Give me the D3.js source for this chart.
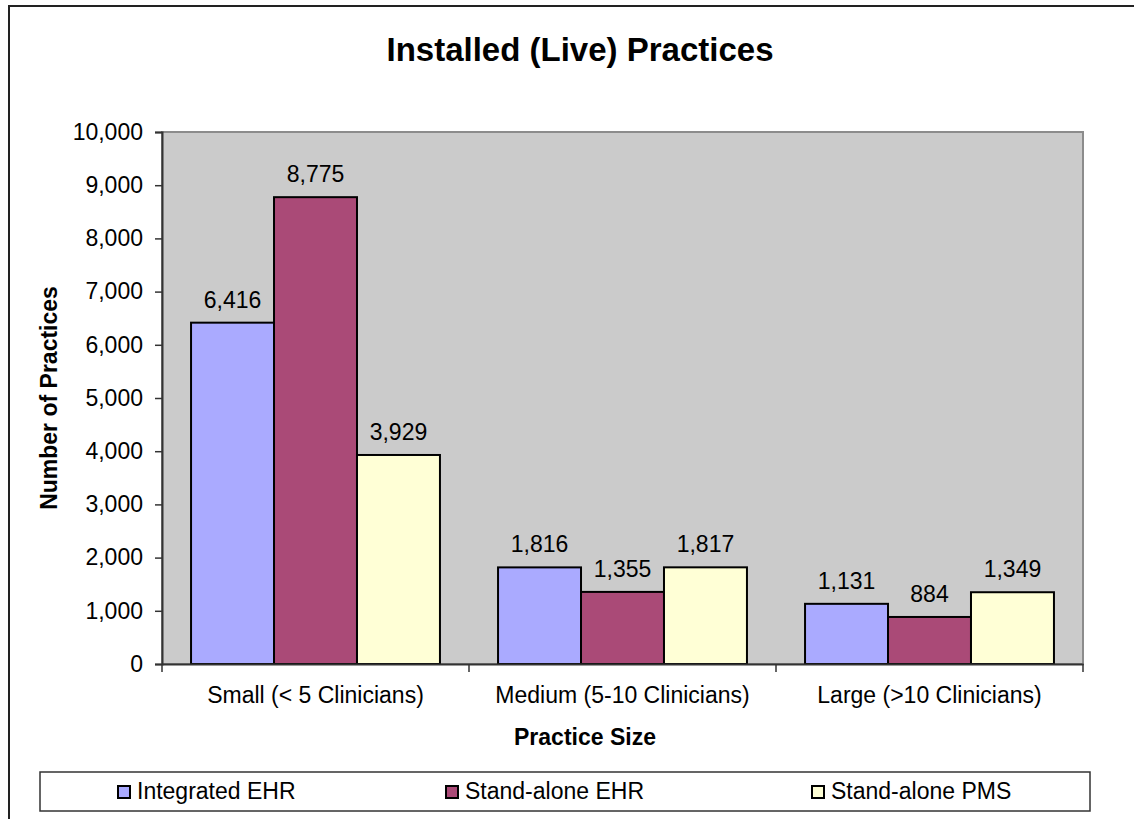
<!DOCTYPE html>
<html>
<head>
<meta charset="utf-8">
<script src="https://cdn.jsdelivr.net/npm/d3@7"></script>
<style>
  body { margin: 0; background: #fff; }
  text { font-family: "Liberation Sans", Arial, sans-serif; }
</style>
</head>
<body>
<div class="chart"></div>
<script>
var categories = ["Small (< 5 Clinicians)", "Medium (5-10 Clinicians)", "Large (>10 Clinicians)"];
var seriesNames = ["Integrated EHR", "Stand-alone EHR", "Stand-alone PMS"];
var integrated = [6416, 1816, 1131];
var standaloneEhr = [8775, 1355, 884];
var standalonePms = [3929, 1817, 1349];
var yTicks = [0, 1000, 2000, 3000, 4000, 5000, 6000, 7000, 8000, 9000, 10000];

var colors = ["#aaaaff", "#aa4a77", "#ffffd6"];
var seriesValues = [integrated, standaloneEhr, standalonePms];

var W = 1134, H = 819;
// plot area edges (note: "top" is a reserved window property, so prefix these)
var plotLeft = 162, plotRight = 1083, plotTop = 132, plotBottom = 664;

var svg = d3.select(".chart")
  .append("svg")
  .attr("width", W)
  .attr("height", H);

// outer chart border
svg.append("rect")
  .attr("x", 9).attr("y", 6)
  .attr("width", 1200).attr("height", 900)
  .attr("fill", "#fff")
  .attr("stroke", "#222")
  .attr("stroke-width", 2);

var x0 = d3.scaleBand()
  .domain(categories)
  .range([plotLeft, plotRight])
  .padding(0);

var x1 = d3.scaleBand()
  .domain(seriesNames)
  .range([0, x0.bandwidth()])
  .paddingInner(0)
  .paddingOuter(0.35);

var y = d3.scaleLinear()
  .domain([0, 10000])
  .range([plotBottom, plotTop]);

// plot area
svg.append("rect")
  .attr("x", plotLeft).attr("y", plotTop)
  .attr("width", plotRight - plotLeft).attr("height", plotBottom - plotTop)
  .attr("fill", "#cbcbcb")
  .attr("stroke", "#8c8c8c")
  .attr("stroke-width", 2);

var fmt = d3.format(",");

// bars
var rows = [];
categories.forEach(function(c, i) {
  seriesNames.forEach(function(s, j) {
    rows.push({cat: c, series: s, value: seriesValues[j][i], color: colors[j]});
  });
});

svg.selectAll("rect.bar")
  .data(rows)
  .enter()
  .append("rect")
  .attr("class", "bar")
  .attr("x", function(d) { return x0(d.cat) + x1(d.series); })
  .attr("y", function(d) { return y(d.value); })
  .attr("width", x1.bandwidth())
  .attr("height", function(d) { return y(0) - y(d.value); })
  .attr("fill", function(d) { return d.color; })
  .attr("stroke", "#000")
  .attr("stroke-width", 2);

svg.selectAll("text.val")
  .data(rows)
  .enter()
  .append("text")
  .attr("class", "val")
  .attr("x", function(d) { return x0(d.cat) + x1(d.series) + x1.bandwidth() / 2; })
  .attr("y", function(d) { return y(d.value) - 15; })
  .attr("text-anchor", "middle")
  .attr("font-size", "23px")
  .attr("fill", "#000")
  .text(function(d) { return fmt(d.value); });

// y axis
var yAxis = svg.append("g")
  .attr("transform", "translate(" + plotLeft + ",0)")
  .call(d3.axisLeft(y).tickValues(yTicks).tickFormat(fmt).tickSize(7).tickPadding(12));
yAxis.select(".domain").attr("stroke", "#333").attr("stroke-width", 2);
yAxis.selectAll(".tick line").attr("stroke", "#333").attr("stroke-width", 1.5);
yAxis.selectAll(".tick text")
  .attr("font-size", "23px")
  .attr("fill", "#000")
  .style("font-family", "'Liberation Sans', Arial, sans-serif");

// x axis
var xAxis = svg.append("g")
  .attr("transform", "translate(0," + plotBottom + ")")
  .call(d3.axisBottom(x0).tickSize(0).tickPadding(23));
xAxis.select(".domain").attr("stroke", "#333").attr("stroke-width", 2);
xAxis.selectAll(".tick text")
  .attr("font-size", "23px")
  .attr("fill", "#000")
  .style("font-family", "'Liberation Sans', Arial, sans-serif");

// category boundary ticks
var bounds = categories.map(function(c) { return x0(c); }).concat([plotRight]);
svg.selectAll("line.bound")
  .data(bounds)
  .enter()
  .append("line")
  .attr("x1", function(d) { return d; })
  .attr("x2", function(d) { return d; })
  .attr("y1", plotBottom)
  .attr("y2", plotBottom + 8)
  .attr("stroke", "#333")
  .attr("stroke-width", 1.5);

// titles
svg.append("text")
  .attr("x", 580).attr("y", 61)
  .attr("text-anchor", "middle")
  .attr("font-size", "33px")
  .attr("font-weight", "bold")
  .text("Installed (Live) Practices");

svg.append("text")
  .attr("transform", "translate(57," + ((plotTop + plotBottom) / 2) + ") rotate(-90)")
  .attr("text-anchor", "middle")
  .attr("font-size", "23px")
  .attr("font-weight", "bold")
  .text("Number of Practices");

svg.append("text")
  .attr("x", 585).attr("y", 745)
  .attr("text-anchor", "middle")
  .attr("font-size", "23px")
  .attr("font-weight", "bold")
  .text("Practice Size");

// legend
svg.append("rect")
  .attr("x", 40).attr("y", 772)
  .attr("width", 1050).attr("height", 39)
  .attr("fill", "#fff")
  .attr("stroke", "#333")
  .attr("stroke-width", 1.5);

var legendX = [117, 445, 811];
var legend = svg.selectAll("g.leg")
  .data(seriesNames)
  .enter()
  .append("g")
  .attr("class", "leg")
  .attr("transform", function(d, i) { return "translate(" + legendX[i] + ",0)"; });

legend.append("rect")
  .attr("x", 1).attr("y", 786)
  .attr("width", 12).attr("height", 12)
  .attr("fill", function(d, i) { return colors[i]; })
  .attr("stroke", "#000")
  .attr("stroke-width", 2);

legend.append("text")
  .attr("x", 20).attr("y", 799)
  .attr("font-size", "23px")
  .text(function(d) { return d; });
</script>
</body>
</html>
